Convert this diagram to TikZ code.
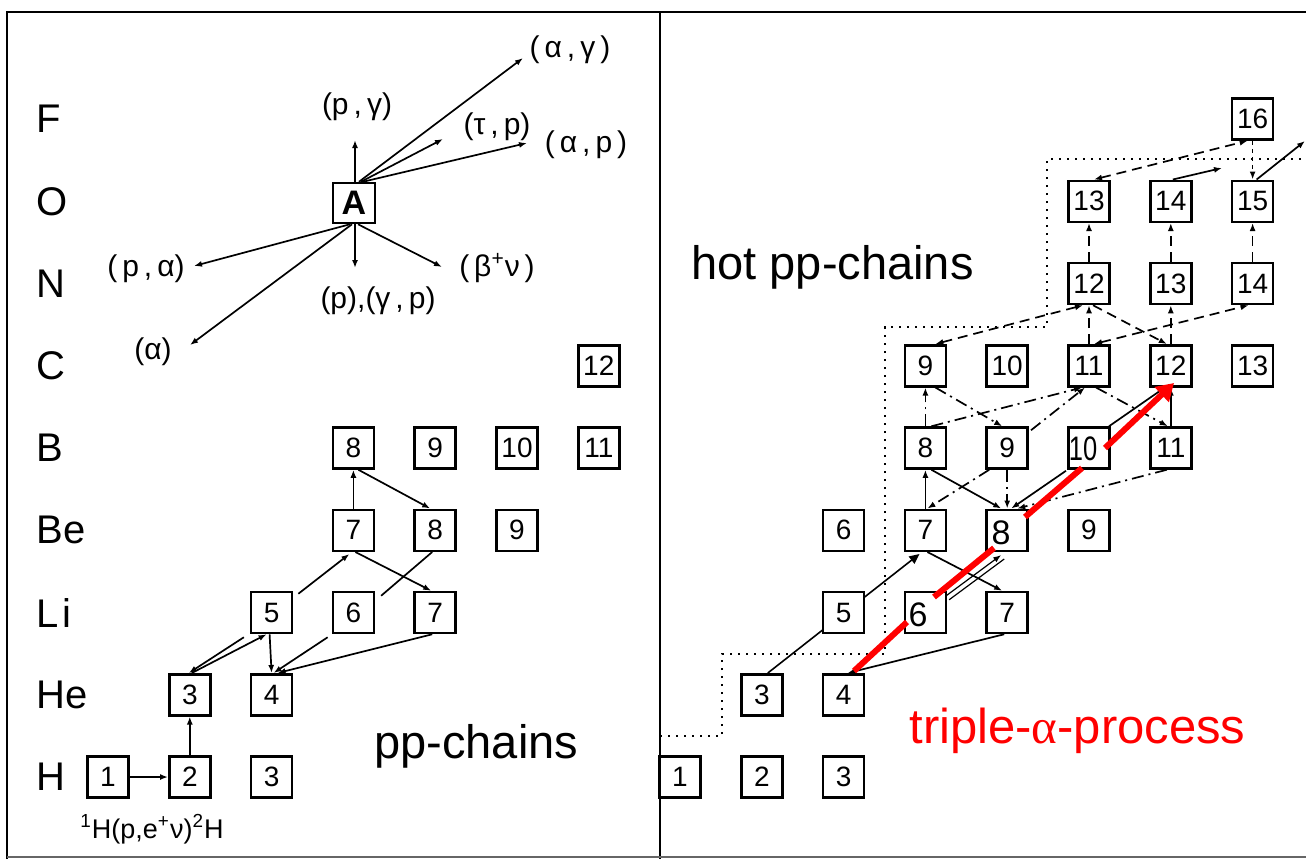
\documentclass[tikz,border=0pt]{standalone}
\usepackage{fontspec}
\setmainfont{Liberation Sans}
\newfontfamily\serifgr{Liberation Serif}
\usetikzlibrary{arrows.meta,backgrounds}
\newcommand\gp{\hspace{2.5pt}}
\begin{document}
\begin{tikzpicture}[x=0.5pt,y=-0.5pt,
  bx/.style={draw, line width=1.25pt, fill=white, minimum width=20.5pt, minimum height=20.5pt, inner sep=0pt, font=\fontsize{14}{14}\selectfont},
  el/.style={anchor=west, inner sep=0pt, font=\fontsize{20}{20}\selectfont},
  rx/.style={inner sep=0pt, font=\fontsize{15}{15}\selectfont},
  big/.style={anchor=base west, inner sep=0pt, font=\fontsize{23.5}{24}\selectfont},
  ovl/.style={inner sep=0pt, font=\fontsize{17}{17}\selectfont},
  con/.style={line width=0.85pt, -{Latex[length=4pt,width=3pt]}},
  ln/.style={line width=0.85pt},
  dsh/.style={con, dash pattern=on 5pt off 3pt},
  dsh2/.style={dsh, {Latex[length=4pt,width=3pt]}-{Latex[length=4pt,width=3pt]}},
  sdsh/.style={con, dash pattern=on 2pt off 2pt},
  ddot/.style={con, dash pattern=on 6pt off 2.5pt on 1pt off 2.5pt},
  bnd/.style={line width=0.8pt, dash pattern=on 1.2pt off 2.8pt},
  frame/.style={line width=1pt},
  redarr/.style={draw=red, line width=3pt},
]
\useasboundingbox (0,0) rectangle (1306,859);
% frame
\draw[frame] (7,859) -- (7,12) -- (1306,12);
\draw[frame] (660,12) -- (660,859);
\draw[line width=0.6pt, black!60] (7,857) -- (1306,857);

% element labels
\node[el] (eF) at (36,119) {F};
\node[el] (eO) at (36,201.25) {O};
\node[el] (eN) at (36,283.5) {N};
\node[el] (eC) at (36,365.75) {C};
\node[el] (eB) at (36,448) {B};
\node[el] (eBe) at (36,530.25) {Be};
\node[el] (eLi) at (36,612.5) {L\hspace{2pt}i};
\node[el] (eHe) at (36,694.75) {He};
\node[el] (eH) at (36,777) {H};

% ---------- left panel boxes
\node[bx] (lH1) at (108,777) {1};
\node[bx] (lH2) at (189.8,777) {2};
\node[bx] (lH3) at (271.6,777) {3};
\node[bx] (lHe3) at (189.8,694.75) {3};
\node[bx] (lHe4) at (271.6,694.75) {4};
\node[bx] (lLi5) at (271.6,612.5) {5};
\node[bx] (lLi6) at (353.4,612.5) {6};
\node[bx] (lLi7) at (435.2,612.5) {7};
\node[bx] (lBe7) at (353.4,530.25) {7};
\node[bx] (lBe8) at (435.2,530.25) {8};
\node[bx] (lBe9) at (517,530.25) {9};
\node[bx] (lB8) at (353.4,448) {8};
\node[bx] (lB9) at (435.2,448) {9};
\node[bx] (lB10) at (517,448) {10};
\node[bx] (lB11) at (598.8,448) {11};
\node[bx] (lC12) at (598.8,365.75) {12};
\node[bx, minimum width=21pt, minimum height=20pt, font=\bfseries\fontsize{17}{17}\selectfont] (A) at (354,203) {A};

% reaction labels around A
\node[rx] (lpg) at (357,107) {(p\gp,\gp γ)};
\node[rx] (lag) at (570,50) {(\gp α\gp,\gp γ\gp)};
\node[rx] (ltp) at (497,127) {(τ\gp,\gp p)};
\node[rx] (lap) at (586,145) {(\gp α\gp,\gp p\gp)};
\node[rx] (lpa) at (146,269) {(\gp p\gp,\gp α)};
\node[rx] (la) at (153,352) {(α)};
\node[rx] (lpgp) at (378,301) {(p),(γ\gp,\gp p)};
\node[rx] (lbn) at (497,268) {(\gp β\textsuperscript{+}ν\gp)};

\coordinate (tpg) at (355,140);
\coordinate (tag) at (523,58);
\coordinate (ttp) at (443,139);
\coordinate (tap) at (527,143);
\coordinate (tpa) at (194,266);
\coordinate (ta) at (190,345);
\coordinate (tpgp) at (355,268);
\coordinate (tbn) at (442,267);
\draw[con] ([shift={(1,0)}]A.north) -- (tpg);
\draw[con] ([shift={(5,0)}]A.north) -- (tag);
\draw[con] ([shift={(7,0)}]A.north) -- (ttp);
\draw[con] ([shift={(9,0)}]A.north) -- (tap);
\draw[con] ([shift={(-4,0)}]A.south) -- (tpa);
\draw[con] ([shift={(-2,0)}]A.south) -- (ta);
\draw[con] ([shift={(1,0)}]A.south) -- (tpgp);
\draw[con] ([shift={(4,0)}]A.south) -- (tbn);

% left pp-chain connectors
\draw[con] (lH1.east) -- (lH2.west);
\draw[con] (lH2.north) -- (lHe3.south);
\draw[con] ([shift={(2,0)}]lHe3.north) -- ([shift={(-5,0)}]lLi5.south);
\draw[con] ([shift={(-6,3)}]lLi5.south west) -- ([shift={(-1,0)}]lHe3.north);
\draw[con] ([shift={(-2,0)}]lLi5.south) -- (lHe4.north);
\draw[con] ([shift={(-4,3)}]lLi6.south west) -- ([shift={(2,0)}]lHe4.north);
\draw[con] ([shift={(-3,0)}]lLi7.south) -- ([shift={(6,0)}]lHe4.north);
\draw[con] ([shift={(5,3)}]lLi5.north east) -- ([shift={(-4,2)}]lBe7.south);
\draw[con] ([shift={(2,0)}]lBe7.south) -- ([shift={(-4,0)}]lLi7.north);
\draw[ln] ([shift={(-3,0)}]lBe8.south) -- ([shift={(6,5)}]lLi6.north east);
\draw[con] (lBe7.north) -- (lB8.south);
\draw[con] ([shift={(5,0)}]lB8.south) -- ([shift={(-5,0)}]lBe8.north);

\node[big] (tpp) at (374,758) {pp-chains};
\node[inner sep=0pt, font=\fontsize{13.5}{13.5}\selectfont] (eq) at (152,829) {\textsuperscript{1}H(p,e\textsuperscript{+}ν)\textsuperscript{2}H};

% ---------- right panel boxes
\node[bx] (rH1) at (680,777) {1};
\node[bx] (rH2) at (761.8,777) {2};
\node[bx] (rH3) at (843.6,777) {3};
\node[bx] (rHe3) at (761.8,694.75) {3};
\node[bx] (rHe4) at (843.6,694.75) {4};
\node[bx] (rLi5) at (843.6,612.5) {5};
\node[bx] (rLi6) at (925.4,612.5) {};
\node[bx] (rLi7) at (1007.2,612.5) {7};
\node[bx] (rBe6) at (843.6,530.25) {6};
\node[bx] (rBe7) at (925.4,530.25) {7};
\node[bx] (rBe8) at (1007.2,530.25) {};
\node[bx] (rBe9) at (1089,530.25) {9};
\node[bx] (rB8) at (925.4,448) {8};
\node[bx] (rB9) at (1007.2,448) {9};
\node[bx] (rB10) at (1089,448) {};
\node[bx] (rB11) at (1170.8,448) {11};
\node[bx] (rC9) at (925.4,365.75) {9};
\node[bx] (rC10) at (1007.2,365.75) {10};
\node[bx] (rC11) at (1089,365.75) {11};
\node[bx] (rC12) at (1170.8,365.75) {12};
\node[bx] (rC13) at (1252.6,365.75) {13};
\node[bx] (rN12) at (1089,283.5) {12};
\node[bx] (rN13) at (1170.8,283.5) {13};
\node[bx] (rN14) at (1252.6,283.5) {14};
\node[bx] (rO13) at (1089,201.25) {13};
\node[bx] (rO14) at (1170.8,201.25) {14};
\node[bx] (rO15) at (1252.6,201.25) {15};
\node[bx] (rF16) at (1252.6,119) {16};

% boundary
\draw[bnd] (660,736) -- (722,736) -- (722,654) -- (885,654) -- (885,327) -- (1047,327) -- (1047,159) -- (1306,159);

% right connectors
\begin{pgfonlayer}{background}
\draw[line width=0.8pt, -{Triangle[length=5pt,width=4.5pt]}] ([shift={(6,0)}]rHe3.north) -- ([shift={(-6,2)}]rBe7.south);
\end{pgfonlayer}
\draw[con] ([shift={(-3,0)}]rLi7.south) -- ([shift={(4,0)}]rHe4.north);
\draw[con] ([shift={(2,0)}]rBe7.south) -- ([shift={(-5,0)}]rLi7.north);
\draw[con, line width=0.6pt] ([shift={(-1,5)}]rLi6.north east) -- ([shift={(-6,3)}]rBe8.south);
\draw[ln, line width=0.6pt] ([shift={(2,9)}]rLi6.north east) -- ([shift={(-3,7)}]rBe8.south);
\draw[con] (rBe7.north) -- (rB8.south);
\draw[con] ([shift={(6,0)}]rB8.south) -- ([shift={(-6,0)}]rBe8.north);
\draw[con] ([shift={(-23,1)}]rB10.south) -- ([shift={(4,0)}]rBe8.north);
\draw[con] (rB11.north) -- (rC12.south);
\draw[ln] ([shift={(20,0)}]rB10.north) -- ([shift={(-6,0)}]rC12.south);
\coordinate (o14end) at (1222,168);
\coordinate (o15end) at (1305,141);
\draw[con] ([shift={(2,0)}]rO14.north) -- (o14end);
\draw[con] ([shift={(4,0)}]rO15.north) -- (o15end);

\draw[ddot] (rB8.north) -- (rC9.south);
\draw[ddot] ([shift={(10,0)}]rC9.south) -- ([shift={(-5,0)}]rB9.north);
\draw[ddot] ([shift={(6,0)}]rB8.north) -- ([shift={(-7,0)}]rC11.south);
\draw[ddot] ([shift={(2,4)}]rB9.north east) -- ([shift={(-4,0)}]rC11.south);
\draw[ddot] ([shift={(7,0)}]rC11.south) -- ([shift={(-3,0)}]rB11.north);
\draw[ddot] (rB9.south) -- (rBe8.north);
\draw[ddot] ([shift={(-18,0)}]rB9.south) -- ([shift={(2,0)}]rBe7.north);
\draw[ddot] ([shift={(-4,0)}]rB11.south) -- ([shift={(10,0)}]rBe8.north);

\draw[dsh2] ([shift={(10,0)}]rC9.north) -- ([shift={(-6,0)}]rN12.south);
\draw[dsh] (rC11.north) -- (rN12.south);
\draw[dsh] ([shift={(4,0)}]rN12.south) -- ([shift={(-4,0)}]rC12.north);
\draw[dsh2] ([shift={(5,0)}]rC11.north) -- ([shift={(-4,0)}]rN14.south);
\draw[dsh] (rC12.north) -- (rN13.south);
\draw[dsh] (rN12.north) -- (rO13.south);
\draw[dsh] (rN13.north) -- (rO14.south);
\draw[dsh] (rN14.north) -- (rO15.south);
\draw[dsh2] ([shift={(5,0)}]rO13.north) -- ([shift={(-5,0)}]rF16.south);
\draw[sdsh] (rF16.south) -- (rO15.north);

% overlay digits
\node[ovl] (t6) at (918,615) {6};
\node[ovl] (t8) at (1001,533) {8};
\node[ovl] (t10) at (1083,449) {\scalebox{0.75}[1]{10}};

% red triple-alpha path
\coordinate (r0) at (854,671);
\coordinate (r1) at (907,622);
\coordinate (r2) at (934,597);
\coordinate (r3) at (994,548);
\coordinate (r4) at (1025,517);
\coordinate (r5) at (1082,468);
\coordinate (r6) at (1105,448);
\coordinate (r7) at (1174,383);
\draw[redarr] (r0) -- (r1) (r2) -- (r3) (r4) -- (r5);
\draw[redarr, -{Triangle[length=8.5pt,width=10pt]}] (r6) -- (r7);

\node[big] (thot) at (691,279) {hot pp-chains};
\node[big, text=red, font=\fontsize{24.5}{25}\selectfont] (t3a) at (909,743) {triple-{\serifgr α}-process};
\end{tikzpicture}
\end{document}
